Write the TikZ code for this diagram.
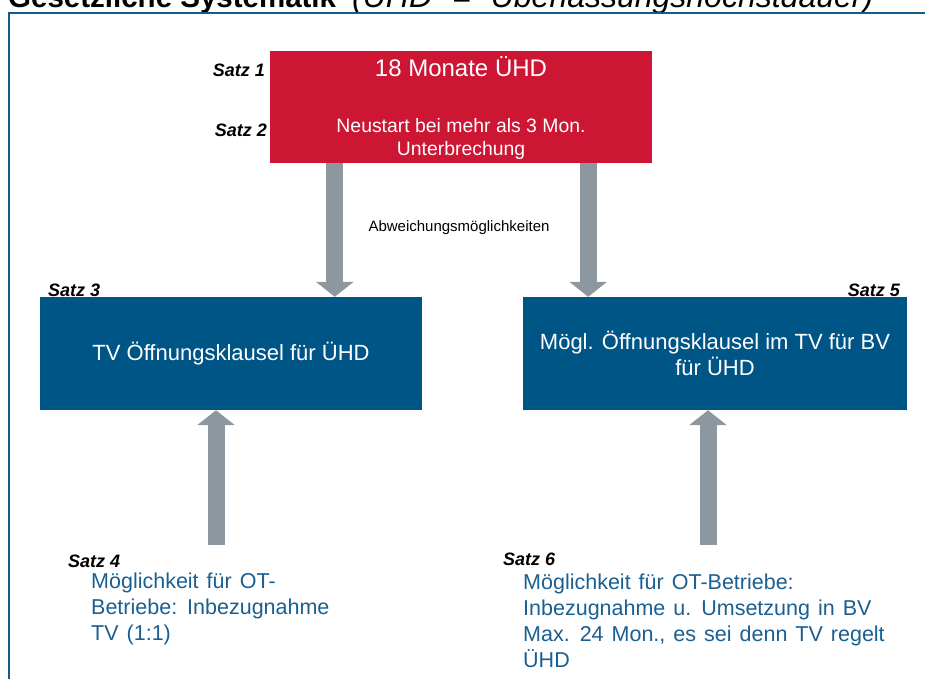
\documentclass[tikz,border=0pt]{standalone}
\usepackage{fontspec}
\setmainfont{Liberation Sans}
\usepackage{tikz}
\usetikzlibrary{arrows.meta, positioning, calc}
\usepackage{xcolor}
\definecolor{lawcolor}{RGB}{204,22,51}
\definecolor{clausecolor}{RGB}{0,85,135}
\definecolor{arrowcolor}{RGB}{140,151,159}
\definecolor{notecolor}{RGB}{25,95,145}
\definecolor{framecolor}{RGB}{20,90,140}
\newcommand{\notefont}{\fontsize{21.5}{26}\selectfont\spaceskip=8pt\relax}

\begin{document}
\begin{tikzpicture}[
    x=1pt, y=-1pt,
    block/.style={rectangle, minimum width=382pt, minimum height=113pt, inner sep=0pt, align=center, text=white, font=\fontsize{22}{26}\selectfont},
    satz/.style={inner sep=0pt, font=\fontsize{18}{20}\selectfont\bfseries\itshape},
    note/.style={inner sep=0pt, align=left, text=notecolor, font=\notefont},
    bigarrow/.style={draw=arrowcolor, line width=17pt, -{Triangle[width=37pt, length=15pt]}}
]
\useasboundingbox (0,0) rectangle (925,679);
\clip (0,0) rectangle (925,679);

\node[anchor=base west, inner sep=0pt, font=\fontsize{29.5}{32}\selectfont] (heading) at (8,8) {\textbf{Gesetzliche Systematik}\hspace{16pt}{\itshape\fontsize{32}{36}\selectfont (ÜHD\hspace{20pt}=\hspace{20pt}Überlassungshöchstdauer)}};
\draw[framecolor, line width=2.5pt] (9,700) -- (9,13) -- (940,13);

\node[block, fill=lawcolor, minimum height=112pt] (law) at (461,107) {};
\node[anchor=base, inner sep=0pt, text=white, font=\fontsize{24}{28}\selectfont] (months) at (461,77) {18 Monate ÜHD};
\node[anchor=base, inner sep=0pt, text=white, align=center, font=\fontsize{19.4}{23}\selectfont] (restart) at (461,156) {Neustart bei mehr als 3 Mon.\\Unterbrechung};
\node[satz, anchor=base east] (satz1) at (265,77) {Satz 1};
\node[satz, anchor=base east] (satz2) at (267,137) {Satz 2};

\node[block, fill=clausecolor] (tvclause) at (231,353.5) {TV Öffnungsklausel für ÜHD};
\node[block, fill=clausecolor, minimum width=384pt] (bvclause) at (715,353.5) {Mögl. Öffnungsklausel im TV für BV\\für ÜHD};
\node[satz, anchor=base west] (satz3) at (48,296) {Satz 3};
\node[satz, anchor=base east] (satz5) at (900,296) {Satz 5};

\node[anchor=base, inner sep=0pt, font=\fontsize{15}{18}\selectfont] (deviation) at (459,231) {Abweichungsmöglichkeiten};

\node[satz, anchor=base west] (satz4) at (68,567) {Satz 4};
\node[note, anchor=base west] (otleft) at (91,640) {Möglichkeit für OT-\\Betriebe: Inbezugnahme\\TV (1:1)};
\node[satz, anchor=base west] (satz6) at (503,565) {Satz 6};
\node[note, anchor=base west] (otright) at (523,667) {Möglichkeit für OT-Betriebe:\\Inbezugnahme u. Umsetzung in BV\\Max. 24 Mon., es sei denn TV regelt\\ÜHD};

\coordinate (upleft) at (216,545);
\coordinate (upright) at (708,545);

\draw[bigarrow] ([xshift=65pt]law.south west) -- ([xshift=65pt]law.south west |- tvclause.north);
\draw[bigarrow] ([xshift=-64pt]law.south east) -- ([xshift=-64pt]law.south east |- bvclause.north);
\draw[bigarrow] (upleft) -- (upleft |- tvclause.south);
\draw[bigarrow] (upright) -- (upright |- bvclause.south);
\end{tikzpicture}
\end{document}
